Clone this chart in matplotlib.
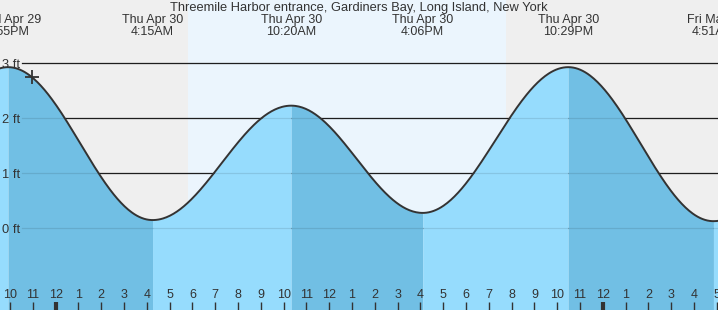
import numpy as np
import matplotlib
matplotlib.use("Agg")
import matplotlib.pyplot as plt
from matplotlib.transforms import blended_transform_factory

plt.rcParams['font.family'] = ['Liberation Sans', 'DejaVu Sans']

title = "Threemile Harbor entrance, Gardiners Bay, Long Island, New York"

# Tide extremes: hours relative to Thu Apr 30 00:00, heights in ft
ext_hours = [-8.30, -2.083, 4.25, 10.333, 16.10, 22.483, 28.85, 35.10]
ext_heights = [0.30, 2.93, 0.15, 2.23, 0.28, 2.93, 0.13, 2.25]
ext_dates = ["", "Wed Apr 29", "Thu Apr 30", "Thu Apr 30", "Thu Apr 30", "Thu Apr 30", "Fri May 1", ""]
ext_times = ["", "9:55PM", "4:15AM", "10:20AM", "4:06PM", "10:29PM", "4:51AM", ""]

sunrise_hour = 5.82
sunset_hour = 19.75
now_hour = -1.05

grid_levels = [0, 1, 2, 3]
grid_labels = ["0 ft", "1 ft", "2 ft", "3 ft"]

tick_hours = list(range(-2, 30))
tick_labels = ["10", "11", "12", "1", "2", "3", "4", "5", "6", "7", "8", "9", "10", "11",
               "12", "1", "2", "3", "4", "5", "6", "7", "8", "9", "10", "11",
               "12", "1", "2", "3", "4", "5"]

x_range = (-2.44, 29.05)
y_range = (-1.485, 4.151)

GRAY = "#efefef"
DAY = "#ebf5fd"
LIGHT = "#96dcfd"
DARK = "#71bfe4"
INK = "#333333"


def tide_segment(t0, h0, t1, h1, n=120):
    t = np.linspace(t0, t1, n)
    h = h0 + (h1 - h0) * (1 - np.cos(np.pi * (t - t0) / (t1 - t0))) / 2
    return t, h


fig = plt.figure(figsize=(7.18, 3.10), dpi=100)
fig.patch.set_facecolor(GRAY)
ax = fig.add_axes([0, 0, 1, 1])
ax.set_facecolor(GRAY)
ax.set_xlim(*x_range)
ax.set_ylim(*y_range)
for s in ax.spines.values():
    s.set_visible(False)

ax.axvspan(sunrise_hour, sunset_hour, color=DAY, zorder=0, lw=0)

# grid lines (under fill)
for lv in grid_levels:
    ax.axhline(lv, xmin=22 / 718, xmax=1, color="#222222", lw=0.9, zorder=1)

all_t, all_h = [], []
for i in range(len(ext_hours) - 1):
    t, h = tide_segment(ext_hours[i], ext_heights[i], ext_hours[i + 1], ext_heights[i + 1])
    col = DARK if ext_heights[i] > ext_heights[i + 1] else LIGHT
    ax.fill_between(t, y_range[0], h, color=col, lw=0, zorder=2)
    all_t.append(t)
    all_h.append(h)
all_t = np.concatenate(all_t)
all_h = np.concatenate(all_h)

# faint grid lines over fill
for lv in grid_levels:
    ax.axhline(lv, xmin=22 / 718, xmax=1, color="black", alpha=0.1, lw=0.9, zorder=3)

ax.plot(all_t, all_h, color=INK, lw=1.4, zorder=4)

now_h = np.interp(now_hour, all_t, all_h)
ax.plot([now_hour], [now_h], marker="+", ms=10, mew=1.3, color=INK, zorder=5)

# y labels
ax.set_yticks(grid_levels, grid_labels)
ax.tick_params(axis="y", direction="in", length=0, pad=-14.5, labelsize=9.3, labelcolor=INK)

# x ticks
ax.set_xticks(tick_hours, tick_labels)
ax.tick_params(axis="x", direction="in", length=6, width=1, color=INK,
               pad=-15, labelsize=9, labelcolor=INK)
for tk, hr in zip(ax.xaxis.get_major_ticks(), tick_hours):
    if hr % 24 == 0:
        tk.tick1line.set_markeredgewidth(3)

ax.xaxis.set_zorder(10)
ax.yaxis.set_zorder(10)

trans = blended_transform_factory(ax.transData, fig.transFigure)
for t, d, tm in zip(ext_hours, ext_dates, ext_times):
    if d:
        ax.text(t, 1 - 20 / 310, d, transform=trans, ha="center", va="center",
                fontsize=9, color=INK, clip_on=False)
        ax.text(t, 1 - 32 / 310, tm, transform=trans, ha="center", va="center",
                fontsize=9, color=INK, clip_on=False)

fig.text(0.5, 1 - 7.5 / 310, title, ha="center", va="center", fontsize=9.3, color=INK)

fig.savefig("out.png", dpi=100, facecolor=GRAY)
